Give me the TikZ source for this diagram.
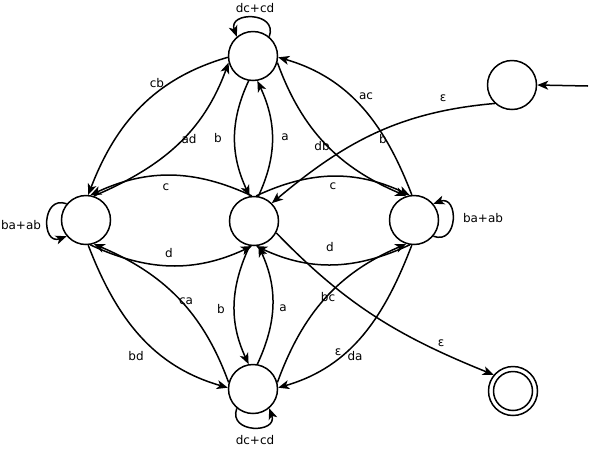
\documentclass[tikz,border=0pt]{standalone}
\usepackage{fontspec}
\setmainfont{DejaVu Sans}
\usetikzlibrary{arrows.meta}
\begin{document}
\begin{tikzpicture}[x=1pt,y=1pt,
  state/.style={circle,draw,line width=1.5pt,minimum size=49pt,inner sep=0pt},
  edge/.style={line width=1.5pt,-{Stealth[length=11pt,width=9pt,inset=3pt]}},
  lbl/.style={font=\fontsize{12}{14}\selectfont,inner sep=0pt}]
\useasboundingbox (0,0) rectangle (589,-448);
% states
\node[state] (T) at (253,-56) {};
\node[state] (L) at (86,-220) {};
\node[state] (C) at (254,-221) {};
\node[state] (R) at (414,-220) {};
\node[state] (B) at (253,-389) {};
\node[state] (S) at (512,-85) {};
\node[state] (F) at (513,-391) {};
\draw[line width=1.5pt] (F.center) circle (19.5);
\coordinate (in0) at (588,-86);
% start
\draw[edge] (in0) -- (S.east);
% epsilon edges
\draw[edge] (S.227) to[out=185,in=40] (C.45);
\draw[edge] (C.-28) to[out=-46,in=158] (F.140);
% loops
\draw[edge] (T.50) .. controls +(70:27) and +(110:27) .. (T.130);
\draw[edge] (L.140) .. controls +(160:27) and +(200:27) .. (L.220);
\draw[edge] (B.230) .. controls +(250:27) and +(290:27) .. (B.310);
\draw[edge] (R.-40) .. controls +(-20:27) and +(20:27) .. (R.40);
% outer / inner curves
\draw[edge] (T.183) to[out=196,in=69] (L.85);      % cb
\draw[edge] (L.72) to[out=23,in=250] (T.195);      % ad
\draw[edge] (R.95) to[out=111,in=-16] (T.-3);      % ac
\draw[edge] (T.-15) to[out=-70,in=157] (R.108);    % db
\draw[edge] (L.-85) to[out=-69,in=164] (B.177);    % bd
\draw[edge] (B.165) to[out=110,in=-23] (L.-72);    % ca
\draw[edge] (R.-95) to[out=249,in=16] (B.3);       % da
\draw[edge] (B.15) to[out=70,in=203] (R.-108);     % bc
% centre edges
\draw[edge] (T.260) to[out=245,in=115] (C.100);    % b
\draw[edge] (C.80) to[out=65,in=-65] (T.280);      % a
\draw[edge] (C.260) to[out=245,in=115] (B.100);    % b
\draw[edge] (B.80) to[out=65,in=-65] (C.-80);      % a
\draw[edge] (C.95) to[out=155,in=25] (L.80);       % c
\draw[edge] (L.-80) to[out=-25,in=205] (C.-95);    % d
\draw[edge] (C.85) to[out=25,in=155] (R.100);      % c
\draw[edge] (R.-100) to[out=205,in=-25] (C.-85);   % d
% labels
\node[lbl] (l1) at (255,-8) {dc+cd};
\node[lbl] (l2) at (255,-440) {dc+cd};
\node[lbl] (l3) at (21,-225) {ba+ab};
\node[lbl] (l4) at (483,-218) {ba+ab};
\node[lbl] (l5) at (157,-83) {cb};
\node[lbl] (l6) at (189,-139) {ad};
\node[lbl] (l7) at (218,-138) {b};
\node[lbl] (l8) at (285,-137) {a};
\node[lbl] (l9) at (366,-96) {ac};
\node[lbl] (l10) at (322,-146) {db};
\node[lbl] (l11) at (383,-139) {b};
\node[lbl] (l12) at (443,-98) {ε};
\node[lbl] (l13) at (166,-187) {c};
\node[lbl] (l14) at (333,-186) {c};
\node[lbl] (l15) at (169,-253) {d};
\node[lbl] (l16) at (330,-247) {d};
\node[lbl] (l17) at (186,-301) {ca};
\node[lbl] (l18) at (221,-309) {b};
\node[lbl] (l19) at (283,-308) {a};
\node[lbl] (l20) at (328,-297) {bc};
\node[lbl] (l21) at (136,-356) {bd};
\node[lbl] (l22) at (338,-352) {ε};
\node[lbl] (l23) at (355,-356) {da};
\node[lbl] (l24) at (441,-343) {ε};
\end{tikzpicture}
\end{document}
